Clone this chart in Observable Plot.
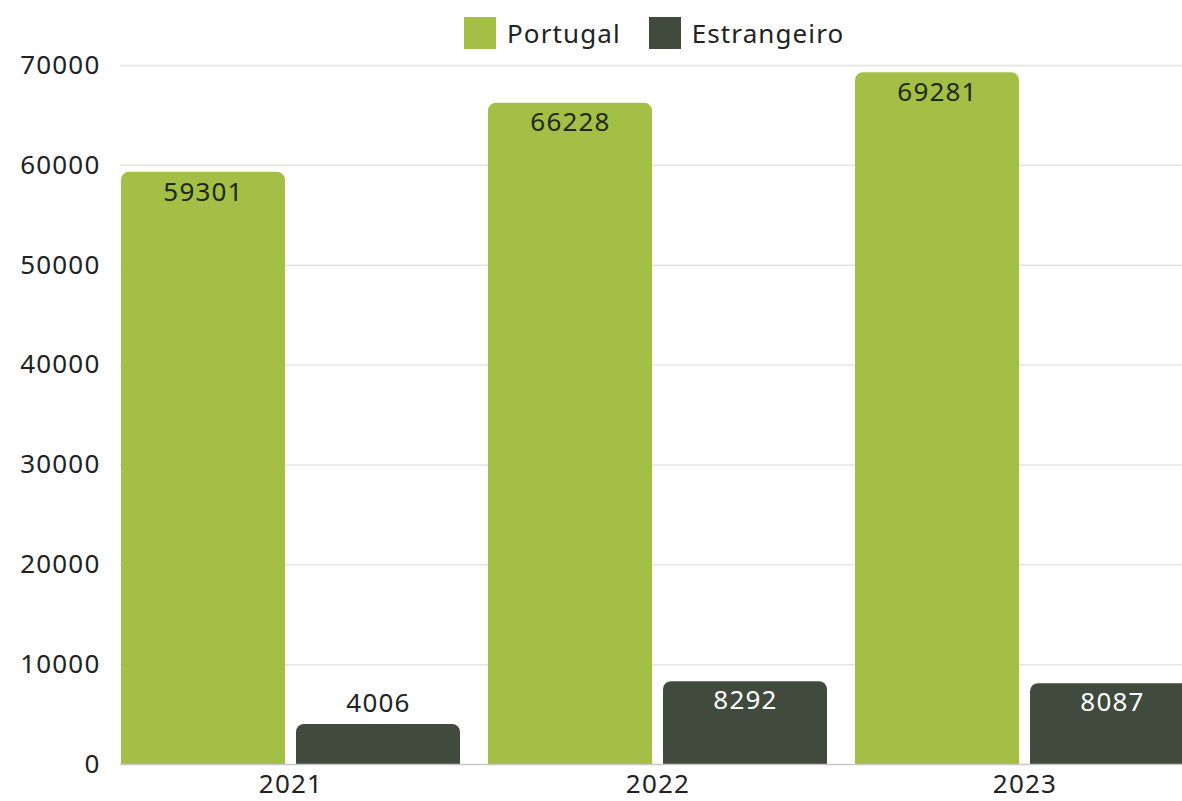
<!DOCTYPE html>
<html>
<head>
<meta charset="utf-8">
<script src="https://cdn.jsdelivr.net/npm/d3@7"></script>
<script src="https://cdn.jsdelivr.net/npm/@observablehq/plot@0.6"></script>
<style>
  html, body { margin: 0; padding: 0; background: #fff; overflow: hidden; width: 1182px; height: 801px; }
  body { position: relative; font-family: "Noto Sans", sans-serif; }
  #legend { position: absolute; left: 464px; top: 15px; display: flex; align-items: center; font-size: 26px; color: #222; z-index: 2; }
  #legend .sw { width: 32px; height: 32px; display: inline-block; margin-right: 11px; }
  #legend .item { display: flex; align-items: center; margin-right: 28px; letter-spacing: 1.1px; }
  #chart { position: absolute; left: 0; top: 0; width: 1200px; }
</style>
</head>
<body>
<div id="legend"></div>
<div id="chart"></div>
<script>
const years = ["2021", "2022", "2023"];
const seriesNames = ["Portugal", "Estrangeiro"];
const portugal = [59301, 66228, 69281];
const estrangeiro = [4006, 8292, 8087];
const colors = ["#a3bf45", "#414b3d"];
const yTicks = [0, 10000, 20000, 30000, 40000, 50000, 60000, 70000];

const ptData = years.map((y, i) => ({year: y, series: "Portugal", value: portugal[i]}));
const esData = years.map((y, i) => ({year: y, series: "Estrangeiro", value: estrangeiro[i]}));

const legend = document.getElementById("legend");
seriesNames.forEach((s, i) => {
  const it = document.createElement("div");
  it.className = "item";
  it.innerHTML = `<span class="sw" style="background:${colors[i]}"></span><span>${s}</span>`;
  legend.appendChild(it);
});

const insideThreshold = 6000;
const groupW = 340, barW = 165, inset = groupW - barW;
const off = inset / 2;

const chart = Plot.plot({
  width: 1200,
  height: 801,
  marginTop: 65,
  marginBottom: 37,
  marginLeft: 120,
  marginRight: 4,
  style: {fontFamily: "Noto Sans, sans-serif", fontSize: "26px", color: "#222", background: "transparent", maxWidth: "none", letterSpacing: "1.2px"},
  x: {domain: years, paddingInner: 0.076, paddingOuter: 0, label: null},
  y: {domain: [0, 70000], label: null},
  marks: [
    Plot.ruleY(yTicks.filter(d => d > 0), {stroke: "#e4e4e4", strokeWidth: 1.5}),
    Plot.axisY({ticks: yTicks, tickSize: 0, tickPadding: 20, tickFormat: d => String(d), label: null, fontSize: 26}),
    Plot.axisX({tickSize: 0, tickPadding: 10, label: null, fontSize: 26}),
    Plot.barY(ptData, {x: "year", y: "value", fill: colors[0], ry1: 8, insetRight: inset}),
    Plot.barY(esData, {x: "year", y: "value", fill: colors[1], ry1: 8, insetLeft: inset}),
    Plot.ruleY([0], {stroke: "#c8c8c8", strokeWidth: 1.5}),
    Plot.text(ptData, {x: "year", y: "value", text: d => String(d.value), dy: 20, dx: -off, fill: "#1e2813", fontSize: 26}),
    Plot.text(esData.filter(d => d.value > insideThreshold), {x: "year", y: "value", text: d => String(d.value), dy: 19, dx: off, fill: "#ffffff", fontSize: 26}),
    Plot.text(esData.filter(d => d.value <= insideThreshold), {x: "year", y: "value", text: d => String(d.value), dy: -21, dx: off, fill: "#222", fontSize: 26})
  ]
});
document.getElementById("chart").appendChild(chart);
</script>
</body>
</html>
